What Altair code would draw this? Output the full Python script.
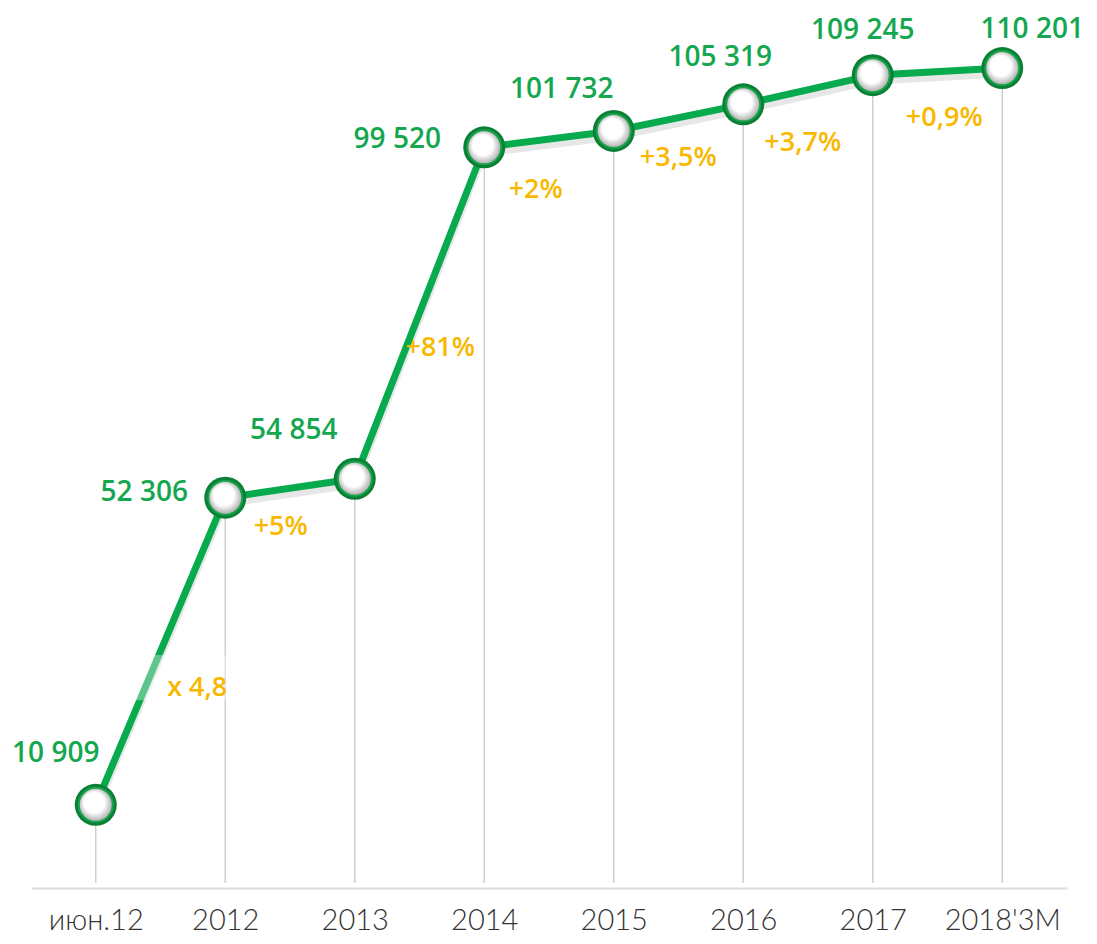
import altair as alt
import pandas as pd

categories = ["июн.12", "2012", "2013", "2014", "2015", "2016", "2017", "2018'3M"]
values = [10909, 52306, 54854, 99520, 101732, 105319, 109245, 110201]
value_labels = ["10 909", "52 306", "54 854", "99 520", "101 732", "105 319", "109 245", "110 201"]
growth_labels = ["x 4,8", "+5%", "+81%", "+2%", "+3,5%", "+3,7%", "+0,9%"]
growth_anchor = categories[1:]

# label offsets (layout only)
value_offsets = [(-40, -51), (-81, -5), (-61, -48), (-87, -7), (-52, -41), (-23, -46), (-10, -44), (30, -38)]
growth_offsets = [(-28, 190), (-74, 48), (-44, 201), (-78, 59), (-65, 54), (-70, 68), (-58, 50)]

GREEN = "#07AA4D"
LABEL_GREEN = "#14A74F"
ORANGE = "#F9B800"
FONT = "Open Sans"

df = pd.DataFrame({"cat": categories, "val": values})

x = alt.X("cat:N", sort=categories, scale=alt.Scale(type="point", padding=0.5),
          axis=alt.Axis(title=None, labelAngle=0, ticks=False, grid=False,
                        domainColor="#dddddd", domainWidth=2,
                        labelFont="Lato", labelFontSize=29, labelFontWeight=300,
                        labelColor="#333333", labelPadding=32, labelBaseline="middle"))
y = alt.Y("val:Q", scale=alt.Scale(domain=[-300, 117760], nice=False, zero=False), axis=None)

base = alt.Chart(df).encode(x=x, y=y)

rules = base.mark_rule(color="#cfcfcf", strokeWidth=1.5).encode(y2=alt.value(871))

shadow = base.mark_line(color="#888888", strokeWidth=7, opacity=0.2, yOffset=6)
line = base.mark_line(color=GREEN, strokeWidth=7)

# semi-transparent white box behind "x 4,8" (lightens the line there)
box_df = pd.DataFrame({"cat": [categories[1]], "val": [values[1]]})
box = alt.Chart(box_df).mark_point(
    shape="M-1,-0.41L1,-0.41L1,0.41L-1,0.41Z", filled=True, color="white",
    opacity=0.35, size=110 * 110, xOffset=-40, yOffset=180
).encode(x=x, y=y)

grad = alt.Gradient(
    gradient="radial",
    stops=[alt.GradientStop(color="#ffffff", offset=0),
           alt.GradientStop(color="#ffffff", offset=0.55),
           alt.GradientStop(color="#9a9a9a", offset=1)],
    x1=0.4, y1=0.35, r1=0, x2=0.5, y2=0.5, r2=0.55)

ring = base.mark_point(shape="circle", filled=True, size=42 * 42, color="#0c7f37", opacity=1)
points = base.mark_point(shape="circle", filled=True, size=34 * 34, fill=grad,
                         stroke="#16a34a", strokeWidth=2, opacity=1)

layers = [rules, shadow, line, box, ring, points]

for lbl, c, v, (dx, dy) in zip(value_labels, categories, values, value_offsets):
    d = pd.DataFrame({"cat": [c], "val": [v], "t": [lbl]})
    layers.append(alt.Chart(d).mark_text(font=FONT, fontSize=28, fontWeight=600,
                                         color=LABEL_GREEN, dx=dx, dy=dy,
                                         align="center", baseline="middle")
                  .encode(x=x, y=y, text="t:N"))

val_map = dict(zip(categories, values))
for lbl, c, (dx, dy) in zip(growth_labels, growth_anchor, growth_offsets):
    d = pd.DataFrame({"cat": [c], "val": [val_map[c]], "t": [lbl]})
    layers.append(alt.Chart(d).mark_text(font=FONT, fontSize=27, fontWeight=600,
                                         color=ORANGE, dx=dx, dy=dy,
                                         align="center", baseline="middle")
                  .encode(x=x, y=y, text="t:N"))

chart = alt.layer(*layers).properties(
    width=1036, height=876,
    background="white",
    autosize=alt.AutoSizeParams(type="none"),
    padding={"left": 23, "top": 4, "right": 22, "bottom": 48},
).configure_view(stroke="transparent", strokeWidth=0)

chart.save("out.html", embed_options={"renderer": "svg", "actions": False})
